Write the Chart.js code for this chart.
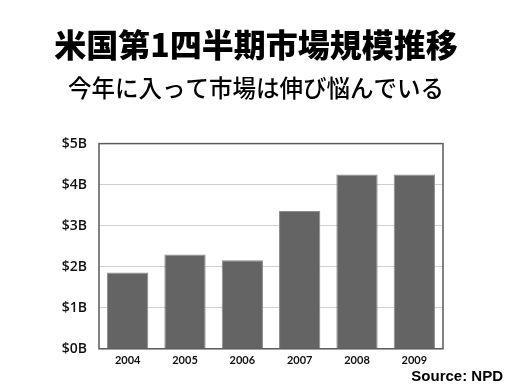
<!DOCTYPE html>
<html>
<head>
<meta charset="utf-8">
<script src="https://cdn.jsdelivr.net/npm/chart.js@4/dist/chart.umd.min.js"></script>
<style>
  html, body { margin: 0; padding: 0; background: #fff; }
  #wrap { width: 512px; height: 384px; position: relative; }
</style>
</head>
<body>
<div id="wrap"><canvas id="myBarChart"></canvas></div>
<script>
const years = ["2004", "2005", "2006", "2007", "2008", "2009"];
const marketSize = [1.86, 2.30, 2.16, 3.36, 4.25, 4.25]; // billions of dollars
const yTicks = [0, 1, 2, 3, 4, 5];

// frame round the plot and the source note
const framePlugin = {
  id: "frame",
  afterDraw(chart) {
    const { ctx, chartArea } = chart;
    ctx.save();
    ctx.strokeStyle = "#5a5a5a";
    ctx.lineWidth = 1.5;
    ctx.strokeRect(chartArea.left, chartArea.top, chartArea.right - chartArea.left, chartArea.bottom - chartArea.top);
    ctx.fillStyle = "#000";
    ctx.font = "bold 15px 'Liberation Sans', Arial, sans-serif";
    ctx.textAlign = "right";
    ctx.textBaseline = "middle";
    ctx.fillText("Source: NPD", chart.width - 9, 377);
    ctx.restore();
  }
};

document.addEventListener("DOMContentLoaded", function () {
  const ctx = document.getElementById("myBarChart").getContext("2d");
  new Chart(ctx, {
    type: "bar",
    data: {
      labels: years,
      datasets: [{
        data: marketSize,
        backgroundColor: "#646464",
        borderColor: "#8c8c8c",
        borderWidth: 1,
        categoryPercentage: 0.72,
        barPercentage: 1.0
      }]
    },
    options: {
      responsive: true,
      maintainAspectRatio: false,
      animation: false,
      layout: { padding: { left: 0, right: 0, top: 0, bottom: 12 } },
      plugins: {
        legend: { display: false },
        tooltip: { enabled: false },
        title: {
          display: true,
          text: "米国第1四半期市場規模推移",
          color: "#000",
          font: { family: "'Noto Sans CJK JP'", size: 32, weight: "900" },
          padding: { top: 26, bottom: 0 }
        },
        subtitle: {
          display: true,
          text: "今年に入って市場は伸び悩んでいる",
          color: "#000",
          font: { family: "'Noto Sans CJK JP'", size: 23.5, weight: "500" },
          padding: { top: 10, bottom: 41 }
        }
      },
      scales: {
        x: {
          grid: { display: false, drawTicks: false },
          border: { display: false },
          ticks: {
            color: "#111",
            font: { family: "Lato", size: 11, weight: "bold" },
            padding: 5
          }
        },
        y: {
          min: 0,
          max: 5,
          afterFit(scale) { scale.width = 99; },
          afterBuildTicks(scale) { scale.ticks = yTicks.map(v => ({ value: v })); },
          grid: { color: "#cfcfcf", lineWidth: 1, drawTicks: false },
          border: { display: false },
          ticks: {
            color: "#111",
            font: { family: "'Open Sans'", size: 14, weight: "600" },
            padding: 12,
            callback: v => "$" + v + "B"
          }
        },
        // empty right-hand axis that keeps the plot off the right edge
        yRight: {
          position: "right",
          min: 0,
          max: 5,
          afterFit(scale) { scale.width = 69; },
          grid: { display: false },
          border: { display: false },
          ticks: { display: false }
        }
      }
    },
    plugins: [framePlugin]
  });
});
</script>
</body>
</html>
